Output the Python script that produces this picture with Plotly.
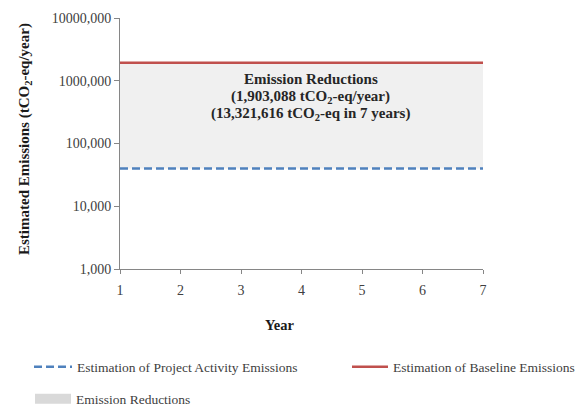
import plotly.graph_objects as go

years = [1, 2, 3, 4, 5, 6, 7]
project_emissions = [40000, 40000, 40000, 40000, 40000, 40000, 40000]
baseline_emissions = [1943088, 1943088, 1943088, 1943088, 1943088, 1943088, 1943088]
y_tick_vals = [1000, 10000, 100000, 1000000, 10000000]
y_tick_text = ["1,000", "10,000", "100,000", "1000,000", "10000,000"]
note_lines = [
    "Emission Reductions",
    "(1,903,088 tCO<sub>2</sub>-eq/year)",
    "(13,321,616 tCO<sub>2</sub>-eq in 7 years)",
]

FONT = "Liberation Serif"
W, H = 582, 408
ML, MR, MT, MB = 120, 99, 18, 139
PW, PH = W - ML - MR, H - MT - MB

fig = go.Figure()

# shaded band between the two emission levels
fig.add_trace(go.Scatter(
    x=years + years[::-1],
    y=baseline_emissions + project_emissions[::-1],
    fill="toself", fillcolor="#f0f0f0", mode="lines",
    line=dict(width=0, color="rgba(0,0,0,0)"),
    name="Emission Reductions", showlegend=False, hoverinfo="skip",
))
# legend key for the band (no data of its own)
fig.add_trace(go.Scatter(
    x=[None], y=[None], mode="lines",
    line=dict(color="#d9d9d9", width=10),
    name="Emission Reductions", legend="legend3", hoverinfo="skip",
))
fig.add_trace(go.Scatter(
    x=years, y=project_emissions, mode="lines",
    line=dict(color="#4f81bd", width=2.5, dash="8px,4px"),
    name="Estimation of Project Activity Emissions", legend="legend",
))
fig.add_trace(go.Scatter(
    x=years, y=baseline_emissions, mode="lines",
    line=dict(color="#c0504d", width=2.5),
    name="Estimation of Baseline Emissions", legend="legend2",
))

# annotation text inside the shaded band
note_px = [79, 97, 114]
for txt, py in zip(note_lines, note_px):
    fig.add_annotation(
        x=4.15, y=7 - (py - MT) / (PH / 4), xref="x", yref="y",
        text="<b>" + txt + "</b>", showarrow=False,
        font=dict(family=FONT, size=15, color="#262626"),
        xanchor="center", yanchor="middle",
    )

# axis titles
fig.add_annotation(
    x=(25 - ML) / PW, y=(H - MB - 139) / PH, xref="paper", yref="paper",
    text="<b>Estimated Emissions (tCO<sub>2</sub>-eq/year)</b>", textangle=-90,
    showarrow=False, font=dict(family=FONT, size=15, color="#1a1a1a"),
    xanchor="center", yanchor="middle",
)
fig.add_annotation(
    x=(280 - ML) / PW, y=(H - MB - 325) / PH, xref="paper", yref="paper",
    text="<b>Year</b>", showarrow=False,
    font=dict(family=FONT, size=14.5, color="#1a1a1a"),
    xanchor="center", yanchor="middle",
)

leg_font = dict(family=FONT, size=13.5, color="#404040")
fig.update_layout(
    width=W, height=H,
    margin=dict(l=ML, r=MR, t=MT, b=MB, autoexpand=False),
    paper_bgcolor="white", plot_bgcolor="white",
    font=dict(family=FONT, size=14, color="#333333"),
    showlegend=True,
    legend=dict(orientation="h", xref="container", yref="container",
                x=29 / W, xanchor="left", y=1 - 367 / H, yanchor="middle",
                font=leg_font, itemwidth=38),
    legend2=dict(orientation="h", xref="container", yref="container",
                 x=347 / W, xanchor="left", y=1 - 367 / H, yanchor="middle",
                 font=leg_font, itemwidth=36),
    legend3=dict(orientation="h", xref="container", yref="container",
                 x=30 / W, xanchor="left", y=1 - 399 / H, yanchor="middle",
                 font=leg_font, itemwidth=36),
    xaxis=dict(
        range=[1, 7], tickvals=years, ticks="outside", ticklen=4,
        showline=True, linecolor="#868686", linewidth=1, tickcolor="#868686",
        showgrid=False, zeroline=False, ticklabelstandoff=4,
        tickfont=dict(family=FONT, size=14, color="#404040"),
    ),
    yaxis=dict(
        type="log", range=[3, 7], tickvals=y_tick_vals, ticktext=y_tick_text,
        ticks="outside", ticklen=5,
        showline=True, linecolor="#868686", linewidth=1, tickcolor="#868686",
        showgrid=False, zeroline=False,
        tickfont=dict(family=FONT, size=14, color="#404040"),
    ),
)

fig.write_html("out.html")
